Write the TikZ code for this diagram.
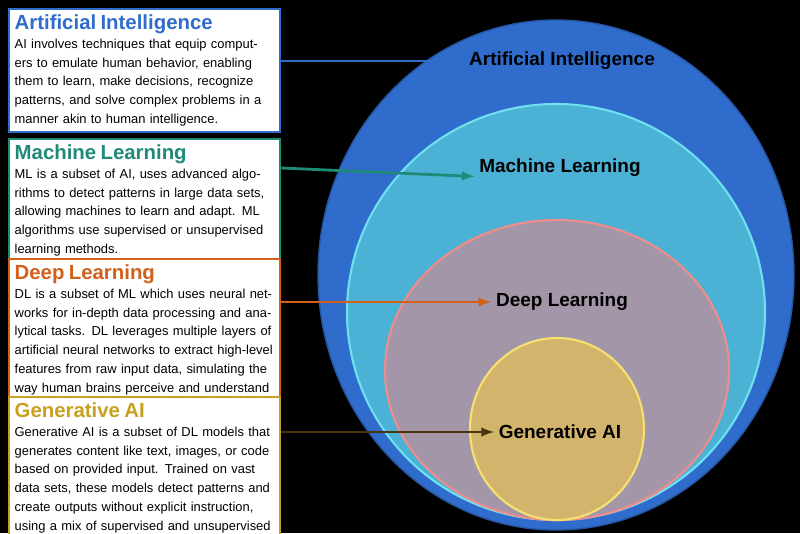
\documentclass[tikz,border=0pt]{standalone}
\usepackage{fontspec}
\setmainfont{Liberation Sans}
\usetikzlibrary{positioning}
\definecolor{aiblue}{HTML}{2F6CCB}
\definecolor{mlblue}{HTML}{4BB2D6}
\definecolor{mlcyan}{HTML}{6FE0F0}
\definecolor{dlmauve}{HTML}{A396A9}
\definecolor{dlpink}{HTML}{F08C8C}
\definecolor{gentan}{HTML}{D3B46C}
\definecolor{genyel}{HTML}{F5E070}
\definecolor{mlteal}{HTML}{1F8A78}
\definecolor{dlorange}{HTML}{D2601A}
\definecolor{gengold}{HTML}{C8A020}
\definecolor{genbrown}{HTML}{4A3410}
\tikzset{
  infobox/.style={draw=#1, line width=1.5pt, fill=white, text width=6.5cm, inner sep=4pt, anchor=north west, align=left, font=\fontsize{9.2}{13.4}\selectfont},
  circlbl/.style={font=\bfseries\fontsize{13.5}{15}\selectfont},
  pointer/.style={->, line width=2pt, >=latex, draw=#1}
}
\begin{document}
\begin{tikzpicture}[x=0.025cm, y=-0.025cm]
        \fill[black] (0,0) rectangle (800,533);
        \useasboundingbox (0,0) rectangle (800,533);

        \draw[fill=aiblue, draw=aiblue!80!black, line width=1pt] (556,275) ellipse [x radius=238, y radius=255];
        \draw[fill=mlblue, draw=mlcyan, line width=1.5pt] (556,312) ellipse [x radius=209, y radius=208];
        \draw[fill=dlmauve, draw=dlpink, line width=1.5pt] (557,370) ellipse [x radius=172, y radius=150];
        \draw[fill=gentan, draw=genyel, line width=1.5pt] (557,429) ellipse [x radius=87, y radius=91];

        \node[circlbl] (ailbl) at (562,61) {Artificial Intelligence};
        \node[circlbl] (mllbl) at (560,168) {Machine Learning};
        \node[circlbl] (dllbl) at (562,302) {Deep Learning};
        \node[circlbl] (genlbl) at (560,432) {Generative AI};

        \node[infobox=aiblue, minimum height=116*0.025cm] (aibox) at (8,8) {{\color{aiblue}\bfseries\fontsize{14.5}{17}\selectfont Artificial Intelligence}\\AI involves techniques that equip computers to emulate human behavior, enabling them to learn, make decisions, recognize patterns, and solve complex problems in a manner akin to human intelligence.};
        \node[infobox=mlteal, minimum height=103*0.025cm] (mlbox) at (8,138) {{\color{mlteal}\bfseries\fontsize{14.5}{17}\selectfont Machine Learning}\\ML is a subset of AI, uses advanced algorithms to detect patterns in large data sets, allowing machines to learn and adapt. ML algorithms use supervised or unsupervised learning methods.};
        \node[infobox=dlorange, minimum height=125*0.025cm] (dlbox) at (8,258) {{\color{dlorange}\bfseries\fontsize{14.5}{17}\selectfont Deep Learning}\\DL is a subset of ML which uses neural networks for in-depth data processing and analytical tasks. DL leverages multiple layers of artificial neural networks to extract high-level features from raw input data, simulating the way human brains perceive and understand the world.};
        \node[infobox=gengold, minimum height=128*0.025cm] (genbox) at (8,396) {{\color{gengold}\bfseries\fontsize{14.5}{17}\selectfont Generative AI}\\Generative AI is a subset of DL models that generates content like text, images, or code based on provided input. Trained on vast data sets, these models detect patterns and create outputs without explicit instruction, using a mix of supervised and unsupervised learning.};

        \draw[pointer=aiblue] (aibox.east |- ailbl.west) -- (ailbl.west);
        \draw[pointer=mlteal] (mlbox.east |- mllbl.west) -- ([yshift=-6pt]mllbl.west);
        \draw[pointer=dlorange] (dlbox.east |- dllbl.west) -- (dllbl.west);
        \draw[pointer=genbrown] (genbox.east |- genlbl.west) -- (genlbl.west);
    \end{tikzpicture}
\end{document}
